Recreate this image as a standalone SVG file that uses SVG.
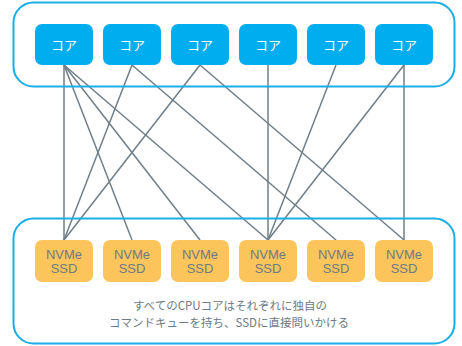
<svg xmlns="http://www.w3.org/2000/svg" width="462" height="346" viewBox="0 0 462 346">
<style>
.frame{fill:none;stroke:#1aaee8;stroke-width:2}
.core rect{fill:#00aeef}
.core text{fill:#ffffff;font-family:"Noto Sans CJK JP","Noto Sans",sans-serif;font-size:13px;text-anchor:middle;dominant-baseline:central}
.ssd rect{fill:#fcc55b}
.ssd text{fill:#6e7a84;font-family:"Liberation Sans",Arial,sans-serif;font-size:13px;text-anchor:middle;dominant-baseline:central}
.links line{stroke:#6f7e87;stroke-width:1.5}
.cap{fill:#6e7a84;font-family:"Noto Sans CJK JP","Noto Sans",sans-serif;font-size:11.5px;text-anchor:middle;dominant-baseline:central}
</style>
<rect x="0" y="0" width="462" height="346" fill="#ffffff"/>
<g id="connectors" class="links">
<line x1="64" y1="65" x2="64" y2="240"/>
<line x1="64" y1="65" x2="132" y2="240"/>
<line x1="64" y1="65" x2="200" y2="240"/>
<line x1="64" y1="65" x2="268" y2="240"/>
<line x1="132" y1="65" x2="64" y2="240"/>
<line x1="132" y1="65" x2="336" y2="240"/>
<line x1="200" y1="65" x2="64" y2="240"/>
<line x1="200" y1="65" x2="404" y2="240"/>
<line x1="268" y1="65" x2="268" y2="240"/>
<line x1="336" y1="65" x2="268" y2="240"/>
<line x1="404" y1="65" x2="268" y2="240"/>
<line x1="404" y1="65" x2="404" y2="240"/>
</g>
<g id="cpu-frame"><rect class="frame" x="13.5" y="2.5" width="441" height="84" rx="20"/></g>
<g id="ssd-frame"><rect class="frame" x="13.5" y="218.5" width="441" height="125" rx="20"/></g>
<g id="core1" class="core"><rect x="35" y="24" width="58" height="41" rx="7"/><text x="64" y="44">コア</text></g>
<g id="core2" class="core"><rect x="103" y="24" width="58" height="41" rx="7"/><text x="132" y="44">コア</text></g>
<g id="core3" class="core"><rect x="171" y="24" width="58" height="41" rx="7"/><text x="200" y="44">コア</text></g>
<g id="core4" class="core"><rect x="239" y="24" width="58" height="41" rx="7"/><text x="268" y="44">コア</text></g>
<g id="core5" class="core"><rect x="307" y="24" width="58" height="41" rx="7"/><text x="336" y="44">コア</text></g>
<g id="core6" class="core"><rect x="375" y="24" width="58" height="41" rx="7"/><text x="404" y="44">コア</text></g>
<g id="ssd1" class="ssd"><rect x="35" y="240" width="58" height="42" rx="7"/><text x="64" y="254">NVMe</text><text x="64" y="268">SSD</text></g>
<g id="ssd2" class="ssd"><rect x="103" y="240" width="58" height="42" rx="7"/><text x="132" y="254">NVMe</text><text x="132" y="268">SSD</text></g>
<g id="ssd3" class="ssd"><rect x="171" y="240" width="58" height="42" rx="7"/><text x="200" y="254">NVMe</text><text x="200" y="268">SSD</text></g>
<g id="ssd4" class="ssd"><rect x="239" y="240" width="58" height="42" rx="7"/><text x="268" y="254">NVMe</text><text x="268" y="268">SSD</text></g>
<g id="ssd5" class="ssd"><rect x="307" y="240" width="58" height="42" rx="7"/><text x="336" y="254">NVMe</text><text x="336" y="268">SSD</text></g>
<g id="ssd6" class="ssd"><rect x="375" y="240" width="58" height="42" rx="7"/><text x="404" y="254">NVMe</text><text x="404" y="268">SSD</text></g>
<text class="cap" x="230" y="305">すべてのCPUコアはそれぞれに独自の</text>
<text class="cap" x="229" y="322">コマンドキューを持ち、SSDに直接問いかける</text>
</svg>
